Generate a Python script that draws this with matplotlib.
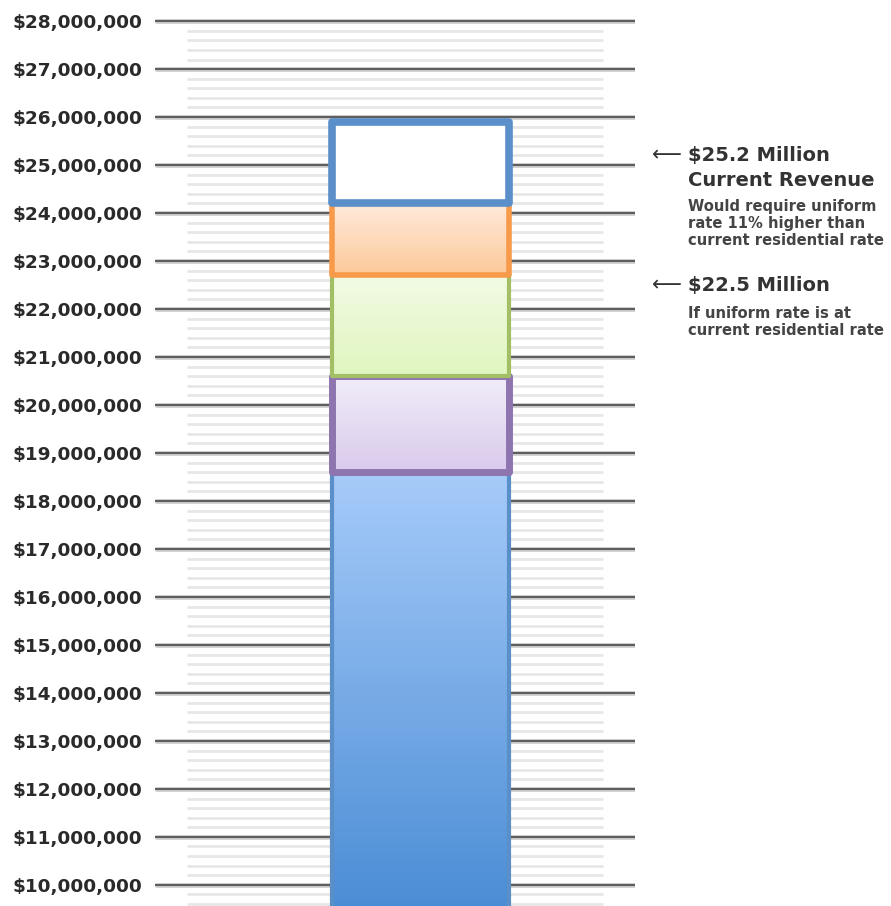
import numpy as np
import matplotlib
matplotlib.use("Agg")
import matplotlib.pyplot as plt
from matplotlib.colors import LinearSegmentedColormap
from matplotlib.patches import Rectangle
import matplotlib.transforms as mtransforms

plt.rcParams['font.family'] = ['DejaVu Sans']

# revenue levels, in millions of dollars
major_ticks = list(range(10, 29))
segment_bottoms = [9.5, 18.6, 20.6, 22.7, 24.2]
segment_tops = [18.6, 20.6, 22.7, 24.2, 25.9]
segment_top_colors = ["#a6cbf9", "#f1edf9", "#f2fbe5", "#ffeadb", "#ffffff"]
segment_bottom_colors = ["#4b8dd5", "#d9caeb", "#e0f6bf", "#fcc99a", "#ffffff"]
segment_edges = ["#5a8fc8", "#8f75b0", "#a3bf66", "#f79a4a", "#5b8fc9"]
segment_lw = [3.0, 5.0, 3.0, 4.0, 5.5]

notes = [
    (25.2, "$25.2 Million", ["Current Revenue"],
     ["Would require uniform", "rate 11% higher than", "current residential rate"]),
    (22.5, "$22.5 Million", [],
     ["If uniform rate is at", "current residential rate"]),
]

fig = plt.figure(figsize=(8.91, 9.06), dpi=100)
ax = fig.add_axes([155 / 891, 0, 480 / 891, 1])
for s in ax.spines.values():
    s.set_visible(False)
ax.set_xticks([])

# grid lines: dark major lines, four light minor lines between them
for v in major_ticks:
    ax.plot([0, 1], [v, v], color="#cccccc", lw=3.4, solid_capstyle="butt", zorder=1)
    ax.plot([0, 1], [v, v], color="#5e5e5e", lw=1.5, solid_capstyle="butt", zorder=2)
    for k in range(1, 5):
        y = v - k * 0.2
        if y > 9.56:
            ax.plot([0.067, 0.933], [y, y], color="#e6e6e6", lw=1.9,
                    solid_capstyle="butt", zorder=1)

ax.set_yticks(major_ticks)
ax.set_yticklabels(["${:,.0f}".format(v * 1_000_000) for v in major_ticks],
                   fontsize=13.3, fontweight="bold", color="#2a2a2a")
ax.tick_params(axis="y", length=0, pad=9)

# stacked bar
x0, x1 = 0.368, 0.737
for i in range(len(segment_tops)):
    b, t = segment_bottoms[i], segment_tops[i]
    cmap = LinearSegmentedColormap.from_list(
        "seg%d" % i, [segment_bottom_colors[i], segment_top_colors[i]])
    grad = np.linspace(0, 1, 256).reshape(-1, 1)
    ax.imshow(grad, cmap=cmap, origin="lower", aspect="auto",
              extent=[x0, x1, b, t], zorder=3 + i * 2, interpolation="bicubic")
    ax.add_patch(Rectangle((x0, b), x1 - x0, t - b, fill=False,
                           edgecolor=segment_edges[i], lw=segment_lw[i],
                           joinstyle="round", zorder=4 + i * 2))
ax.set_xlim(0, 1)
ax.set_ylim(9.56, 28.44)

# annotations to the right
trans = mtransforms.blended_transform_factory(ax.transAxes, ax.transData)
px = 1 / 48  # one pixel in data units (millions)
for val, head, subheads, lines in notes:
    ax.text(1.035, val, "\u27f5", transform=trans, fontsize=15, color="#333333",
            va="center", ha="left", clip_on=False)
    ax.text(1.11, val, head, transform=trans, fontsize=14, fontweight="bold",
            color="#333333", va="center", ha="left", clip_on=False)
    y = val - 25 * px
    for s in subheads:
        ax.text(1.11, y, s, transform=trans, fontsize=14, fontweight="bold",
                color="#333333", va="center", ha="left", clip_on=False)
        y -= 25 * px
    y -= 1 * px if subheads else 3 * px
    for s in lines:
        ax.text(1.11, y, s, transform=trans, fontsize=10.6, fontweight="bold",
                color="#444444", va="center", ha="left", clip_on=False)
        y -= 17 * px

fig.savefig("out.png", dpi=100)
